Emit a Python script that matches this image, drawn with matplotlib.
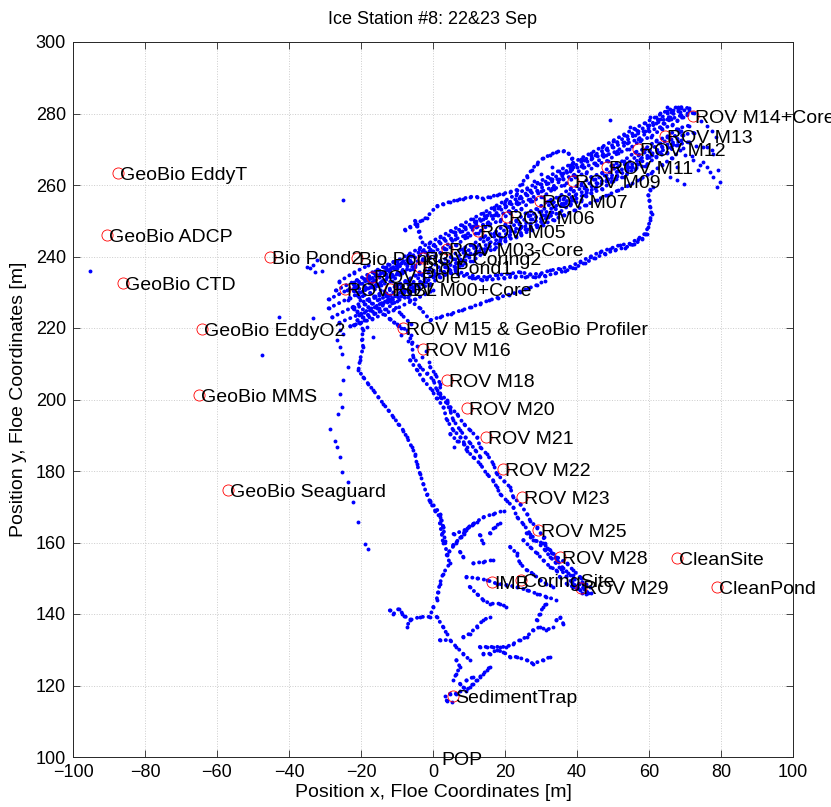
import numpy as np
import matplotlib
matplotlib.use("Agg")
import matplotlib.pyplot as plt

plt.rcParams["font.family"] = ["Liberation Sans", "DejaVu Sans"]

TITLE = "Ice Station #8: 22&23 Sep"
XLABEL = "Position x, Floe Coordinates [m]"
YLABEL = "Position y, Floe Coordinates [m]"
BLUE = (0, 0, 1)
RED = (1, 0, 0)

# station markers (red circles) and their names
site_names = ["GeoBio EddyT", "GeoBio ADCP", "GeoBio CTD", "GeoBio EddyO2", "GeoBio MMS",
              "GeoBio Seaguard", "Bio Pond2", "Bio Pond3", "ROV Pole", "ROV ISBL",
              "ROV M00+Core", "Bio Pond1", "ROV Coring2", "ROV M03-Core", "ROV M05",
              "ROV M06", "ROV M07", "ROV M09", "ROV M11", "ROV M12", "ROV M13",
              "ROV M14+Core", "ROV M15 & GeoBio Profiler", "ROV M16", "ROV M18", "ROV M20",
              "ROV M21", "ROV M22", "ROV M23", "ROV M25", "ROV M28", "ROV M29", "IMB",
              "CoringSite", "CleanSite", "CleanPond", "SedimentTrap", "POP"]
site_x = [-87.5, -90.6, -86.1, -64.2, -65.0, -56.9, -45.3, -21.2, -17.0, -24.4,
          -11.9, -3.6, -2.8, 3.8, 12.6, 20.5, 29.7, 39.0, 48.2, 57.0, 64.4,
          72.3, -8.2, -2.9, 3.8, 9.5, 14.7, 19.4, 24.6, 29.3, 35.3, 41.1, 16.3,
          24.4, 67.8, 78.9, 5.6, 1.8]
site_y = [263.4, 246.0, 232.6, 219.7, 201.3, 174.7, 239.9, 239.5, 234.4, 230.9,
          230.9, 237.1, 239.6, 242.1, 247.2, 251.1, 255.6, 261.1, 265.0, 270.0, 273.7,
          279.3, 220.1, 214.0, 205.5, 197.7, 189.6, 180.6, 172.6, 163.5, 155.9, 147.4, 149.0,
          149.5, 155.7, 147.6, 117.1, 99.6]

# ---- ship/ROV track (blue dots), read off the picture strand by strand ----
# main NE band: several passes along the floe edge
band_xa = [-22, -19, -16, -13, -10, -7, -4, -1, 2, 5, 8, 11, 14, 17, 20, 23, 26, 29, 32, 35,
           38, 41, 44, 47, 50, 53, 56, 59, 62, 65, 68, 71]
band_xb = [-20.5, -17.5, -14.5, -11.5, -8.5, -5.5, -2.5, 0.5, 3.5, 6.5, 9.5, 12.5, 15.5, 18.5,
           21.5, 24.5, 27.5, 30.5, 33.5, 36.5, 39.5, 42.5, 45.5, 48.5, 51.5, 54.5, 57.5, 60.5,
           63.5, 66.5, 69.5, 72.5]
band_xc = [-21, -18, -15, -12, -9, -6, -3, 0, 3, 6, 9, 12, 15, 18, 21, 24, 27, 30, 33, 36,
           39, 42, 45, 48, 51, 54, 57, 60, 63, 66, 69]
band_xd = [24.5, 27.5, 30.5, 33.5, 36.5, 39.5, 42.5, 45.5, 48.5, 51.5, 54.5, 57.5, 60.5, 63.5,
           66.5, 69.5]
band_y1 = [230.3, 231.6, 233.5, 235.0, 236.9, 238.3, 240.4, 241.6, 243.7, 245.0, 247.1, 248.4,
           250.4, 251.7, 253.8, 255.1, 257.2, 258.4, 260.5, 261.8, 264.0, 265.2, 267.3, 268.5,
           270.6, 271.9, 274.0, 275.2, 277.3, 278.6, 280.7, 281.0]
band_y2 = [228.6, 229.8, 232.0, 233.1, 235.4, 236.5, 238.9, 240.0, 242.1, 243.2, 245.5, 246.6,
           248.9, 250.0, 252.2, 253.3, 255.6, 256.7, 258.9, 260.0, 262.3, 263.4, 265.7, 266.8,
           269.0, 270.1, 272.4, 273.5, 275.7, 276.8, 279.1, 280.2]
band_y3 = [225.3, 226.6, 228.6, 229.8, 232.0, 233.2, 235.5, 236.6, 238.8, 239.9, 242.2, 243.3,
           245.5, 246.6, 248.9, 250.0, 252.3, 253.4, 255.6, 256.7, 259.0, 260.1, 262.3, 263.4,
           265.7, 266.8, 269.1, 270.2, 272.4, 273.5, 275.8, 276.6]
band_y4 = [223.6, 224.9, 226.9, 228.1, 230.4, 231.5, 233.8, 234.9, 237.1, 238.2, 240.5, 241.6,
           243.8, 244.9, 247.2, 248.3, 250.6, 251.7, 253.9, 255.0, 257.3, 258.4, 260.6, 261.7,
           264.0, 265.1, 267.4, 268.5, 270.7, 271.8, 274.1, 274.6]
band_y5 = [220.8, 222.1, 224.1, 225.3, 227.6, 228.8, 231.0, 232.1, 234.3, 235.4, 237.7, 238.8,
           241.0, 242.1, 244.4, 245.5, 247.8, 248.9, 251.1, 252.2, 254.5, 255.6, 257.8, 258.9,
           261.2, 262.3, 264.6, 265.4, 267.9, 269.0, 271.3, 272.0]
band_y6 = [229.1, 231.3, 232.4, 234.7, 235.8, 238.1, 239.1, 241.5, 242.5, 244.8, 245.9, 248.2,
           249.3, 251.5, 252.6, 254.9, 256.0, 258.2, 259.3, 261.6, 262.7, 265.0, 266.1, 268.3,
           269.4, 271.7, 272.8, 275.1, 276.1, 278.4, 279.5]
band_y7 = [224.6, 225.8, 228.0, 229.2, 231.5, 232.4, 234.8, 235.9, 238.1, 239.3, 241.4, 242.6,
           244.9, 245.9, 248.3, 249.2, 251.6, 252.6, 255.0, 256.0, 258.3, 259.3, 261.7, 262.7,
           265.1, 266.0, 268.4, 269.5, 271.7, 272.8, 275.1]
band_y8 = [232.1, 233.8, 235.4, 237.1, 238.8, 240.5, 242.2, 243.8, 245.5, 247.2, 248.9, 250.6,
           252.2, 253.9, 255.6, 257.3, 259.0, 260.6, 262.3, 264.0, 265.7, 267.4, 269.0, 270.7,
           272.4, 274.1, 275.8, 277.4, 279.1, 280.8, 281.9, 281.5]
band_y9 = [246.1, 247.5, 248.9, 250.3, 251.6, 253.0, 254.4, 255.8, 257.2, 258.5, 259.9, 261.6,
           263.3, 265.5, 267.6, 270.3]
band_y10 = [231.5, 233.4, 234.9, 236.4, 238.3, 240.1, 241.6, 243.1, 245.0, 246.9, 248.3, 249.8,
            251.7, 253.6, 255.1, 256.5, 258.4, 260.3, 261.8, 263.3, 265.1, 267.0, 268.5, 270.0,
            271.9, 273.7, 275.2, 276.7, 278.6, 280.5, 281.6]
band_y11 = [222.2, 223.7, 225.6, 227.5, 229.0, 230.4, 232.3, 234.2, 235.7, 237.2, 239.0, 240.9,
            242.4, 243.9, 245.8, 247.6, 249.1, 250.6, 252.5, 254.4, 255.8, 257.3, 259.2, 261.1,
            262.6, 264.0, 265.9, 267.8, 269.3, 270.7, 272.6]

# dense start of the track
blob_x = [[-27, -22, -16, -11], [-29, -24, -18, -12, -7], [-29, -23, -17, -11, -5],
          [-28, -22, -16, -10, -4], [-26, -20, -14, -8, -2], [-23, -17, -11, -5, 0],
          [-22, -16, -12, -9], [-18, -13, -9, -6], [-26, -22, -18]]
blob_y = [[230.5, 233, 236, 238.5], [228, 230.5, 233.5, 236.5, 239],
          [225.5, 228.5, 231.5, 234.5, 237.5], [223, 226, 229, 232, 235],
          [221.5, 224, 227, 230, 233], [220.5, 222.5, 225, 228, 230.5],
          [231, 226, 222.5, 220], [234, 229, 224, 221], [233, 235.5, 237.5]]

# thin upper arc and hump
arc_x = [-7.8, -6.4, -4.5, -3.1, -1.8, 1, 2.9, 4.7, 6.6, 8.4, 10.3, 12.1, 14, 15.8, 17.7, 19.5,
         21.4, 23.2, 24.6, 26, 27.4, 28.8, 30.6, 32.5, 34.3, 36.2, 37.6, 38.5, 39, 38.1]
arc_y = [247.5, 248.3, 249.2, 250.1, 250.9, 254.1, 254.7, 255.3, 255.8, 256.2, 256.7, 256.7,
         256.2, 256.7, 257.2, 257.6, 258.1, 258.6, 260.4, 262.3, 264.2, 266, 267.5, 268.4,
         269.3, 269.6, 268.9, 267.5, 266.1, 264.7]
arc_v_x = [-5, -4.5, -4, -3.5, -3]
arc_v_y = [250, 248.5, 247, 245.5, 244]

# lower loop to the east and the line under it
loop_x = [4.7, 9.3, 12.1, 14.9, 17.7, 21.4, 24.2, 26.9, 29.7, 32.5, 35.3, 38, 40.8, 43.6,
          46.4, 49.2, 51.9, 54.7, 57, 58.9, 59.8, 60.3, 60.7, 60.3, 60.1, 59.8, 60.3, 61.2]
loop_y = [236.1, 235.2, 234.3, 234.3, 234.8, 235.2, 235.7, 235, 235.2, 236.1, 236.6, 237.1,
          238.5, 239.9, 241.3, 242.2, 243.2, 243.6, 245, 246.4, 248.3, 250.2, 252, 253.9, 255.8,
          257.2, 258.6, 259.5]
loop2_x = [7, 10.7, 13.5, 16.3, 19.6, 22.8, 25.5, 28.3, 31.1, 33.9, 36.6, 39.4, 42.2, 45, 47.8,
           50.5, 53.3, 55.9, 58, 59.4]
loop2_y = [235.0, 234.0, 233.5, 233.6, 234.0, 234.4, 234.4, 234.2, 234.6, 235.3, 235.9, 236.9,
           238.2, 239.6, 240.8, 241.8, 242.5, 243.4, 244.8, 246.4]
low_x = [-6.4, -3.6, -0.8, 2, 5, 8, 10.5, 13, 15.5, 18, 21, 24.2, 26.5, 28.8, 31]
low_y = [227.7, 225.5, 222.2, 223.1, 224.0, 225.0, 225.8, 226.8, 227.7, 228.5, 229.3, 230.2,
         231.1, 232.0, 233.2]

spray_x = [64.9, 66.8, 68.6, 70.5, 63.1, 65.9, 64, 67.7, 72.3, 74.2, 76, 77, 77.9, 79.3, 79.7,
           75.1, 73.7, 78.8, 49.2, 54.7, 60.3, 65.9, 67.7, 69.6, 67.7, 76, 77.4, 77.9, 74.5, 76,
           77.5, 78.5, 71, 73, 75, 70, 72]
spray_y = [281.9, 281, 280.5, 280.1, 280.1, 279.1, 277.3, 278.2, 267, 265.6, 265.1, 263.7,
           262.3, 264.2, 260.9, 266.5, 264.2, 259.5, 278.2, 276.3, 279.1, 262.3, 261.4, 260.4,
           265.1, 270.7, 269.8, 268.8, 278, 276.5, 275, 273.5, 272, 271, 270.5, 268.5, 268]

# southward transects
d1_x = [-12, -10, -7.3, -5.9, -5.5, -3.6, -1.8, 0.1, 1, 1.9, 3.8, 4.7, 5.6, 7.5, 8.9, 10.3,
        11.7, 13.1]
d1_y = [222.5, 221, 219.4, 216.2, 212, 209.2, 207.3, 205.5, 202.7, 200.8, 199, 197.1, 194.3,
        191.5, 189.6, 187.8, 185.9, 184]
d2_x = [-0.8, 0.6, 2, 2, 3.8, 4.8, 6.6, 8.5, 10.3, 12.2, 13.1, 14.9, 16.8, 17.7, 19.6, 21.4,
        22.3, 24.2, 26.1, 27, 28.8, 30.7, 31.6, 33, 34.5, 36, 37.5, 39, 40.5, 42, 43]
d2_y = [209.1, 207.2, 204.4, 201.6, 199.8, 197.9, 196, 193.2, 191.4, 189.5, 186.7, 184.8, 182,
        179.2, 177.3, 175.5, 172.7, 170.8, 168, 166.1, 164.2, 161.4, 158.6, 157, 155, 153, 151.5,
        150, 148.5, 147, 146]
d3_x = [-6.4, -4.5, -2.7, -0.4, 1, 2.9, 3.8, 5.6, 7.5, 9.4]
d3_y = [211, 208.3, 205.5, 202.7, 200.3, 198, 194.3, 191.5, 189.6, 186.8]
d4_x = [4.8, 6.6, 8.5, 9.4, 11.2, 13.1, 14.9, 16.8, 17.7, 18.6, 20.5, 22.3, 23.3, 25.1, 27, 31,
        32.5, 34, 35.5, 37, 38.5, 40, 41.5]
d4_y = [190.4, 188.5, 187.6, 185.7, 183.9, 182, 179.2, 177.3, 175.5, 173.6, 171.7, 169.9, 167.1,
        165.2, 162.4, 158, 156, 154.5, 152.5, 150.5, 149, 147.5, 146]
b1_x = [-23.5, -22.6, -24.9, -25.8, -25.4, -23.5, -24.9, -25.8, -25.4, -26.3, -28.6, -27.2,
        -26.8, -25.8, -25.4, -23.5, -22.1, -20.7, -18.9, -18]
b1_y = [227.8, 225.9, 218.4, 214.7, 212.8, 209.1, 205.4, 201.6, 197.9, 196, 191.8, 188.5,
        186.7, 183.9, 179.7, 176.9, 171.3, 165.6, 159.6, 158.2]
b2_x = [-20.3, -19.4, -19.8, -19.4, -20.3, -20.7, -19.4, -18, -16.6, -15.2, -13.8, -12.4, -11,
        -9.6, -8.2, -7.3, -5.9, -5, -4.5, -3.6, -2.7, -1.8, -0.8, 0.6, 2, 2.9, 3.3, 3.8]
b2_y = [221.3, 219.4, 217.0, 214.7, 211, 208.2, 206.3, 204.4, 202.6, 200.7, 198.8, 197, 195.1,
        193.2, 191.3, 189.5, 186.7, 184.8, 182, 179.2, 176.4, 173.6, 171.3, 168.9, 167, 164.2,
        160.5, 156.8]

# southern survey grid around IMB / sediment trap, strand by strand
grid_x = [[1.9, 2.4, 2.8], [5.6, 7.9, 9.3, 10.7, 12.1], [13, 13.9], [15.8, 17.2, 18.6],
          [7.5, 8.4], [3.8, 4.7, 2.8, 1.9, 1.4, 1.0], [11.2, 14, 16.7],
          [21.4, 23.2, 24.1, 26, 27.8, 29.7, 31.5, 33.4], [37.1, 38.9, 40.8],
          [25.1, 26.9, 28.8, 30.6, 32.5, 34.3, 35.2],
          [26, 27.8, 30.6, 32.5, 34.3, 37.1, 38.9, 40.8, 41.7],
          [9.3, 12.1, 14.9, 17.7, 20.4, 23.2, 26, 28.8, 31.5, 34.3],
          [10.2, 12.1, 14, 15.8, 18.6, 20.4], [0.1, -0.9, -3.6, -6.4, -7.3], [-8.7],
          [1, 2.8, 3.8], [1.9, 4.7, 6.5, 8.4, 10.2], [8.4, 10.2, 12.1, 14, 15.8],
          [13, 14.9, 16.7, 18.6, 20.4, 22.3, 24.1, 26, 27.8, 29.7, 31.5, 33.4],
          [14, 15.8, 17.7, 19.5, 21.4, 23.2, 26, 27.8, 30.6, 32.5], [28.8, 29.7, 30.6, 31.5],
          [34.3, 35.2, 36.2], [6.5, 7.5, 6.5, 5.6],
          [7.5, 8.4, 9.3, 10.2, 11.2, 12.1, 13, 14, 14.9, 15.8], [4.7, 6.5, 7.5],
          [3.8, 5.2], [3.3], [9.3, 11.2], [-0.8, 2, 2.9],
          [5.7, 8.5, 11.2, 14, 16.8, 19.6], [4.5, 6.5, 8.5, 10], [-12, -11, -9.5, -8, -6.5]]
grid_y = [[165.4, 162.6, 159.8], [159.3, 161.6, 163.5, 164.9, 165.8], [162.1, 159.8],
          [162.6, 164.4, 165.4], [157.4, 156.0], [156.5, 154.2, 151.3, 148.5, 146.2, 143.9],
          [154.2, 154.6, 155.1], [158.8, 157, 154.2, 152.3, 151.3, 149.5, 148.5, 147.6],
          [148.5, 147.6, 146.7], [160.7, 158.8, 157, 155.1, 153.2, 152.3, 150.4],
          [162.6, 160.7, 159.8, 157.9, 156, 154.2, 152.3, 150.4, 148.5],
          [150.4, 150, 149.5, 148.5, 148.1, 147.6, 146.7, 145.7, 144.8, 143.9],
          [147.6, 145.7, 143.9, 142.9, 142.9, 142], [142, 139.2, 139.2, 138.3, 136.4], [140.1],
          [139.2, 136.4, 134.5], [132.7, 132.7, 130.8, 128.9, 127.1],
          [133.6, 134.5, 136.4, 138.3, 139.2],
          [130.8, 130.8, 130.8, 130.8, 130.8, 131.7, 132.7, 133.6, 135.5, 136.4, 135.5, 136.4],
          [128.9, 128.9, 129.9, 129.4, 128, 128, 127.1, 126.1, 127.1, 128],
          [138.3, 140.1, 142, 142.9], [138.3, 139.2, 137.3], [127.1, 125.2, 123.3, 121.4],
          [120.5, 119.6, 118.6, 119.6, 120.5, 121.4, 122.4, 123.3, 124.2, 125.2],
          [117.7, 117.7, 118.6], [115.8, 115.4], [117.2], [121.4, 122.4], [171.7, 168, 164.2],
          [162.4, 163.3, 165.2, 167.1, 168, 168.9], [157.5, 160, 162.5, 164.5],
          [141, 140, 141.5, 139.5, 138.5]]

# scattered fixes: M15 area, M28/M29 cluster, hump interior, outliers
misc_x = [-9, -7, -6, -4.5, -3, -2, -1, 39, 41, 42.5, 43.5, 44, 42.5, 5.7, 30, 33, 28,
          -95.3, -24.9, -35.1, -34.2, -32.8, -32.3, -30.9, -33.2, -42.7, -33.2, -47.5, -21.2,
          -20.3, -19.4, -18.4, -16.6, -25.8, -26.7]
misc_y = [218, 216.5, 218, 215, 212, 213.5, 210.5, 151, 150, 148.5, 147.5, 146, 145.5, 186.7,
          263, 265, 261,
          236, 255.8, 237.1, 236.7, 235.7, 239, 236, 237.6, 223.2, 222.7, 212.4, 233.4, 227.8,
          223.2, 220.4, 217.6, 219.4, 216.6]


def dotted_strands():
    out = [(band_xa, band_y1), (band_xb, band_y2), (band_xa, band_y3), (band_xb, band_y4),
           (band_xa, band_y5), (band_xc, band_y6), (band_xc, band_y7), (band_xa, band_y8),
           (band_xd, band_y9), (band_xc, band_y10), (band_xc, band_y11),
           (arc_x, arc_y), (arc_v_x, arc_v_y), (loop_x, loop_y),
           (loop2_x, loop2_y), (low_x, low_y), (d1_x, d1_y), (d2_x, d2_y), (d3_x, d3_y),
           (d4_x, d4_y), (b2_x, b2_y)]
    out += list(zip(blob_x, blob_y))
    out += list(zip(grid_x, grid_y))
    return out


def main():
    fig = plt.figure(figsize=(8.31, 8.07), dpi=100)
    ax = fig.add_axes([73 / 831, 50 / 807, 720 / 831, 715 / 807])

    # track: strands drawn as dotted lines through the read fixes, plus the fixes themselves
    for xs, ys in dotted_strands():
        ax.plot(xs, ys, color=BLUE, lw=2.8, ls=(0, (0.05, 1.45)), dash_capstyle="round",
                solid_capstyle="round", zorder=2)
        ax.plot(xs, ys, "o", color=BLUE, ms=2.8, mew=0, zorder=2)
    for xs, ys in [(spray_x, spray_y), (misc_x, misc_y), (b1_x, b1_y)]:
        ax.plot(xs, ys, "o", color=BLUE, ms=2.8, mew=0, zorder=2)

    sx, sy = np.array(site_x), np.array(site_y)
    inside = sy >= 100  # MATLAB drops markers whose point lies outside the limits
    ax.plot(sx[inside], sy[inside], "o", mfc="none", mec=RED, ms=8, mew=0.6, zorder=3)
    for name, x, y in zip(site_names, site_x, site_y):
        ax.annotate(name, (x, y), xytext=(1.5, -5.0), textcoords="offset points",
                    ha="left", va="baseline", fontsize=14, annotation_clip=False, zorder=4)

    ax.set_xlim(-100, 100)
    ax.set_ylim(100, 300)
    ax.set_xticks(np.arange(-100, 101, 20))
    ax.set_yticks(np.arange(100, 301, 20))
    ax.tick_params(direction="in", top=True, right=True, length=5, width=0.6,
                   labelsize=13, color=(0.15, 0.15, 0.15), pad=5)
    ax.grid(True, linestyle=":", color=(0.8, 0.8, 0.8), linewidth=0.7)
    ax.set_axisbelow(True)
    for sp in ax.spines.values():
        sp.set_color((0.15, 0.15, 0.15))
        sp.set_linewidth(0.7)
    ax.set_title(TITLE, fontsize=13, pad=13)
    ax.set_xlabel(XLABEL, fontsize=14, labelpad=2)
    ax.set_ylabel(YLABEL, fontsize=14, labelpad=6)

    fig.savefig("out.png", dpi=100)
    plt.close(fig)


if __name__ == "__main__":
    main()
